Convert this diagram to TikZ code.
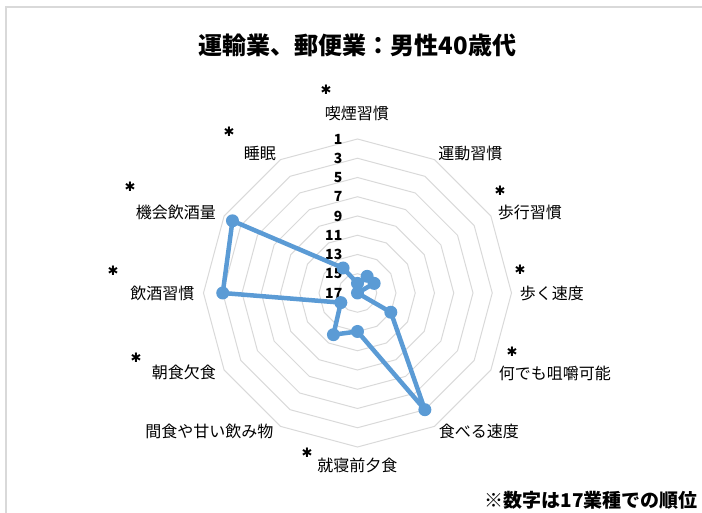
\documentclass[tikz,border=0pt]{standalone}
\usepackage{fontspec}
\setmainfont{Noto Sans CJK JP}
\newfontfamily\symfont{DejaVu Sans}
\definecolor{chartblue}{HTML}{5B9BD5}
\definecolor{gridgray}{HTML}{D9D9D9}

\begin{document}
\begin{tikzpicture}[x=1pt,y=1pt,
  data line/.style={draw=chartblue,line width=4.5pt,line join=round},
  data point/.style={circle,fill=chartblue,inner sep=0pt,minimum size=13pt},
  grid ring/.style={draw=gridgray,line width=1pt},
  axis label/.style={font=\fontsize{16}{18}\selectfont,inner sep=0pt},
  star mark/.style={font=\symfont\fontsize{13}{15}\selectfont,inner sep=0pt},
  rank label/.style={font=\fontsize{14}{16}\selectfont\bfseries,
    anchor=east,inner sep=0pt}]

  \useasboundingbox (-357.5,-220) rectangle (344.5,293);
  \draw[gridgray,line width=1.5pt] (-351.5,-220) -- (-351.5,286) -- (344.5,286);

  \node[font=\fontsize{24}{27}\selectfont\bfseries] (title) at (0,248)
    {運輸業、郵便業：男性40歳代};

  % rings for ranks 1,3,...,15 (rank 17 sits in the centre)
  \foreach \k in {1,3,...,15}
    \draw[grid ring] (90:{(17-\k)*9.625})
      \foreach \i in {1,...,11}{ -- (90-30*\i:{(17-\k)*9.625})} -- cycle;

  \foreach \k in {1,3,...,17}
    \node[rank label] (r\k) at (-15,{(17-\k)*9.625}) {\k};

  % ranks, clockwise from the top axis
  \foreach \k [count=\i from 0] in {16,15,15,17,13,3,13,12,15,3,2,14}
    \coordinate (p\i) at (90-30*\i:{(17-\k)*9.625});

  \draw[data line] (p0) \foreach \i in {1,...,11}{ -- (p\i)} -- cycle;
  \foreach \i in {0,...,11}
    \node[data point] (m\i) at (p\i) {};

  \node[axis label] (a0) at (-0.5,180) {喫煙習慣};
  \node[axis label] (a1) at (113,140) {運動習慣};
  \node[axis label] (a2) at (172.5,81) {歩行習慣};
  \node[axis label] (a3) at (194.5,0) {歩く速度};
  \node[axis label] (a4) at (197.5,-80) {何でも咀嚼可能};
  \node[axis label] (a5) at (121.5,-138) {食べる速度};
  \node[axis label] (a6) at (0,-172) {就寝前夕食};
  \node[axis label] (a7) at (-148,-138) {間食や甘い飲み物};
  \node[axis label] (a8) at (-173.5,-79) {朝食欠食};
  \node[axis label] (a9) at (-195,0) {飲酒習慣};
  \node[axis label] (a10) at (-181.5,81) {機会飲酒量};
  \node[axis label] (a11) at (-97.5,140) {睡眠};

  \node[star mark] (s0) at (-31.5,203) {✱};
  \node[star mark] (s2) at (142.5,102) {✱};
  \node[star mark] (s3) at (162.5,23) {✱};
  \node[star mark] (s4) at (154.5,-59) {✱};
  \node[star mark] (s6) at (-50.5,-160) {✱};
  \node[star mark] (s8) at (-221.5,-65) {✱};
  \node[star mark] (s9) at (-244.5,22) {✱};
  \node[star mark] (s10) at (-227.5,106) {✱};
  \node[star mark] (s11) at (-128.5,161) {✱};

  \node[font=\fontsize{19}{22}\selectfont\bfseries,anchor=east] (note)
    at (344,-207) {※数字は17業種での順位};
\end{tikzpicture}
\end{document}
